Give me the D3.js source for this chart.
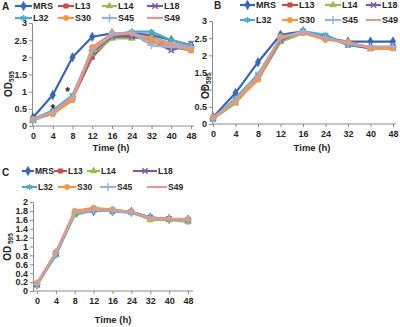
<!DOCTYPE html>
<html>
<head>
<meta charset="utf-8">
<script src="https://cdn.jsdelivr.net/npm/d3@7"></script>
<style>
  body { margin: 0; background: #fff; }
  text { font-family: "Liberation Sans", Arial, sans-serif; font-weight: bold; fill: #262626; }
</style>
</head>
<body>
<div class="container"></div>
<script>
// growth curves, three panels

const hours = ["0", "4", "8", "12", "16", "24", "32", "40", "48"];
const strains = ["MRS", "L13", "L14", "L18", "L32", "S30", "S45", "S49"];

const colors = {
  MRS: "#3a66b0", L13: "#c0504d", L14: "#9bbb59", L18: "#7a5c9c",
  L32: "#4bacc6", S30: "#f79646", S45: "#98b2d8", S49: "#d99a9a"
};
const markers = {
  MRS: "diamond", L13: "square", L14: "triangle", L18: "times",
  L32: "asterisk", S30: "circle", S45: "plus", S49: "none"
};

// panel A
const valuesA = {
  MRS: [0.25, 0.9, 2.0, 2.6, 2.7, 2.7, 2.65, 2.5, 2.35],
  L13: [0.2, 0.35, 0.8, 2.0, 2.6, 2.65, 2.6, 2.3, 2.2],
  L14: [0.15, 0.4, 0.85, 2.1, 2.55, 2.55, 2.6, 2.4, 2.3],
  L18: [0.18, 0.4, 0.85, 2.15, 2.6, 2.6, 2.5, 2.2, 2.4],
  L32: [0.2, 0.45, 0.9, 2.2, 2.65, 2.75, 2.75, 2.5, 2.35],
  S30: [0.2, 0.35, 0.75, 2.3, 2.7, 2.7, 2.45, 2.35, 2.2],
  S45: [0.15, 0.4, 0.85, 2.2, 2.7, 2.7, 2.35, 2.3, 2.3],
  S49: [0.2, 0.4, 0.85, 2.2, 2.65, 2.7, 2.55, 2.4, 2.3]
};
const starsA = [{ i: 1, v: 0.55 }, { i: 1.75, v: 1.05 }];

// panel B
const valuesB = {
  MRS: [0.2, 0.9, 1.8, 2.6, 2.7, 2.5, 2.4, 2.4, 2.4],
  L13: [0.15, 0.65, 1.3, 2.4, 2.65, 2.5, 2.35, 2.2, 2.2],
  L14: [0.15, 0.6, 1.35, 2.4, 2.65, 2.5, 2.35, 2.2, 2.2],
  L18: [0.15, 0.7, 1.4, 2.45, 2.7, 2.55, 2.3, 2.2, 2.25],
  L32: [0.15, 0.75, 1.45, 2.5, 2.7, 2.6, 2.3, 2.25, 2.25],
  S30: [0.2, 0.65, 1.3, 2.55, 2.65, 2.45, 2.4, 2.2, 2.2],
  S45: [0.15, 0.7, 1.4, 2.5, 2.7, 2.5, 2.35, 2.25, 2.25],
  S49: [0.15, 0.7, 1.4, 2.5, 2.65, 2.5, 2.35, 2.25, 2.25]
};

// panel C
const valuesC = {
  MRS: [0.15, 0.85, 1.75, 1.8, 1.8, 1.78, 1.65, 1.62, 1.6],
  L13: [0.15, 0.85, 1.78, 1.85, 1.82, 1.78, 1.62, 1.62, 1.6],
  L14: [0.12, 0.82, 1.7, 1.82, 1.8, 1.77, 1.6, 1.6, 1.55],
  L18: [0.15, 0.85, 1.75, 1.82, 1.8, 1.78, 1.65, 1.62, 1.6],
  L32: [0.15, 0.8, 1.75, 1.8, 1.8, 1.75, 1.65, 1.62, 1.6],
  S30: [0.18, 0.87, 1.8, 1.87, 1.83, 1.78, 1.62, 1.62, 1.62],
  S45: [0.15, 0.85, 1.75, 1.82, 1.8, 1.77, 1.65, 1.62, 1.6],
  S49: [0.15, 0.85, 1.77, 1.83, 1.82, 1.78, 1.63, 1.62, 1.6]
};

const ticksAB = [0, 0.5, 1, 1.5, 2, 2.5, 3];
const ticksC = [0, 0.2, 0.4, 0.6, 0.8, 1, 1.2, 1.4, 1.6, 1.8, 2];

const panels = [
  { letter: "A", values: valuesA, ticks: ticksAB, stars: starsA,
    axisX: 32, right: 194, xr: [33, 191], yr: [126, 23],
    letterPos: [2, 10], odPos: [9, 84], timePos: [111, 151], legFont: 9,
    legY: [6, 18],
    legX: [[15, 58, 102, 147], [15, 58, 102, 147]],
    legT: [[33, 75, 118, 164], [33, 75, 118, 164]] },
  { letter: "B", values: valuesB, ticks: ticksAB, stars: [],
    axisX: 212, right: 396, xr: [213, 393], yr: [124, 21],
    letterPos: [214, 9], odPos: [206, 86], timePos: [312, 151], legFont: 9,
    legY: [5, 20],
    legX: [[240, 282, 325, 366], [240, 282, 325, 366]],
    legT: [[256, 299, 342, 382], [256, 299, 342, 382]] },
  { letter: "C", values: valuesC, ticks: ticksC, stars: [],
    axisX: 33, right: 193, xr: [37, 188], yr: [291, 202],
    letterPos: [2, 176], odPos: [8, 247], timePos: [113, 323], legFont: 8.5,
    legY: [171, 187],
    legX: [[22, 54, 87, 133], [22, 58, 100, 147]],
    legT: [[35, 68, 101, 158], [38, 77, 117, 168]] }
];

const W = 400, H = 327;
const svg = d3.select(".container").append("svg")
  .attr("width", W).attr("height", H)
  .style("display", "block");

svg.append("rect").attr("width", W).attr("height", H).attr("fill", "#fff");

const symbolTypes = {
  diamond: d3.symbolDiamond, square: d3.symbolSquare, triangle: d3.symbolTriangle,
  circle: d3.symbolCircle, times: d3.symbolTimes, asterisk: d3.symbolAsterisk, plus: d3.symbolPlus
};
const symbolSizes = { diamond: 26, square: 20, triangle: 20, circle: 24, times: 20, asterisk: 26, plus: 22 };
const strokeOnly = new Set(["times", "asterisk", "plus"]);

function drawMarker(g, name, x, y) {
  const m = markers[name];
  if (m === "none") return;
  const p = g.append("path")
    .attr("d", d3.symbol(symbolTypes[m], symbolSizes[m])())
    .attr("transform", `translate(${x},${y})`);
  if (strokeOnly.has(m)) {
    p.attr("fill", "none").attr("stroke", colors[name]).attr("stroke-width", 1.4);
  } else {
    p.attr("fill", colors[name]).attr("stroke", colors[name]).attr("stroke-width", 0.5);
  }
}

function styleTicks(sel) {
  sel.select(".domain").attr("stroke", "#8c8c8c");
  sel.selectAll(".tick line").attr("stroke", "#8c8c8c");
  sel.selectAll("text").attr("font-size", 9).attr("font-family", "Liberation Sans, Arial")
    .attr("font-weight", "bold").attr("fill", "#262626");
}

panels.forEach((p) => {
  const g = svg.append("g");
  const x = d3.scalePoint().domain(hours).range(p.xr);
  const xi = d3.scaleLinear().domain([0, hours.length - 1]).range(p.xr);
  const y = d3.scaleLinear().domain([0, d3.max(p.ticks)]).range(p.yr);

  // axes
  const yAxis = d3.axisLeft(y).tickValues(p.ticks).tickSize(3).tickPadding(2)
    .tickFormat(d3.format("~g"));
  const ya = g.append("g").attr("transform", `translate(${p.axisX},0)`).call(yAxis);
  styleTicks(ya);

  const xAxis = d3.axisBottom(x).tickSize(3).tickPadding(4);
  const xa = g.append("g").attr("transform", `translate(0,${p.yr[0]})`).call(xAxis);
  styleTicks(xa);
  xa.select(".domain").attr("d", `M${p.axisX},0H${p.right}`);

  // series
  const line = d3.line().x((d, i) => x(hours[i])).y((d) => y(d));
  strains.forEach((s) => {
    g.append("path").datum(p.values[s])
      .attr("d", line).attr("fill", "none")
      .attr("stroke", colors[s]).attr("stroke-width", 2.2)
      .attr("stroke-linejoin", "round");
    p.values[s].forEach((v, i) => drawMarker(g, s, x(hours[i]), y(v)));
  });

  // significance stars
  g.selectAll("text.star").data(p.stars).join("text")
    .attr("class", "star")
    .attr("x", (d) => xi(d.i)).attr("y", (d) => y(d.v) + 6)
    .attr("text-anchor", "middle").attr("font-size", 12).text("*");

  // labels
  g.append("text").attr("x", p.letterPos[0]).attr("y", p.letterPos[1])
    .attr("font-size", 10).text(p.letter);

  const od = g.append("text")
    .attr("transform", `translate(${p.odPos[0]},${p.odPos[1]}) rotate(-90)`)
    .attr("text-anchor", "middle").attr("dominant-baseline", "middle")
    .attr("font-size", 10);
  od.append("tspan").text("OD");
  od.append("tspan").attr("font-size", 6.5).attr("dy", 2.5).text(p.letter === "C" ? " 595" : "595");

  g.append("text").attr("x", p.timePos[0]).attr("y", p.timePos[1])
    .attr("text-anchor", "middle").attr("font-size", 9.5).text("Time (h)");

  // legend
  strains.forEach((s, k) => {
    const row = Math.floor(k / 4), col = k % 4;
    const lx = p.legX[row][col], tx = p.legT[row][col], ly = p.legY[row];
    g.append("line").attr("x1", lx).attr("x2", tx - 1)
      .attr("y1", ly).attr("y2", ly)
      .attr("stroke", colors[s]).attr("stroke-width", 2.2);
    drawMarker(g, s, (lx + tx - 1) / 2, ly);
    g.append("text").attr("x", tx).attr("y", ly + 3.3)
      .attr("font-size", p.legFont).text(s);
  });
});
</script>
</body>
</html>
